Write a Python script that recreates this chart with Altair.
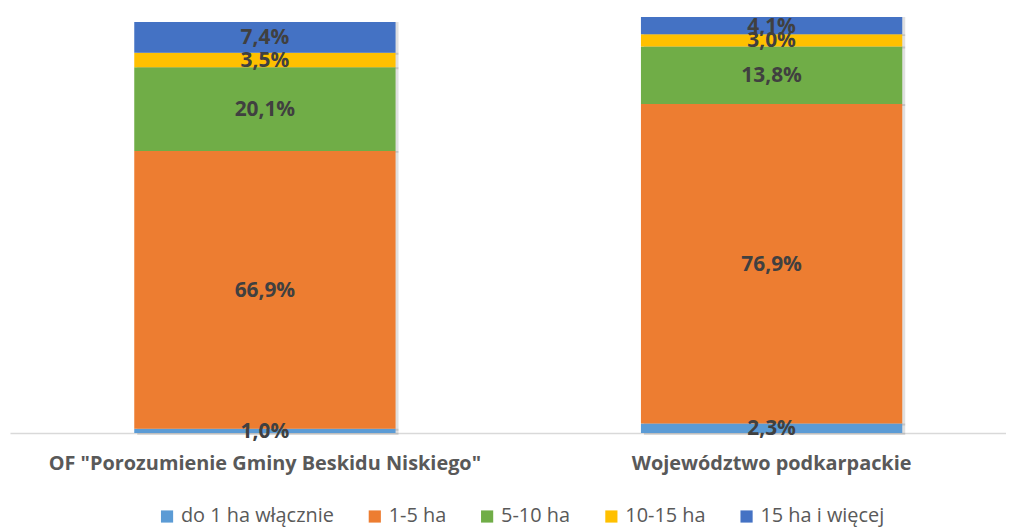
import altair as alt
import pandas as pd

regions = ['OF "Porozumienie Gminy Beskidu Niskiego"', "Województwo podkarpackie"]
categories = ["do 1 ha włącznie", "1-5 ha", "5-10 ha", "10-15 ha", "15 ha i więcej"]
of_values = [1.0, 66.9, 20.1, 3.5, 7.4]
woj_values = [2.3, 76.9, 13.8, 3.0, 4.1]
colors = ["#5B9BD5", "#ED7D31", "#70AD47", "#FFC000", "#4472C4"]

rows = []
for region, vals in zip(regions, [of_values, woj_values]):
    for i, (cat, v) in enumerate(zip(categories, vals)):
        rows.append({"region": region, "cat": cat, "order": i, "value": v,
                     "label": f"{v:.1f}".replace(".", ",") + "%"})
df = pd.DataFrame(rows)

FONT = "Open Sans"

base = alt.Chart(df).transform_stack(
    stack="value", groupby=["region"], as_=["y0", "y1"],
    sort=[alt.SortField("order", order="ascending")]
).transform_calculate(mid="(datum.y0 + datum.y1) / 2")

xscale = alt.Scale(domain=regions, paddingInner=0.4843, paddingOuter=0.225, align=0.545)
xaxis = alt.Axis(labelAngle=0, labelFontSize=20, labelFontWeight="bold",
                 labelColor="#595959", labelFont=FONT, labelPadding=21,
                 labelLimit=0, ticks=False, domainColor="#D9D9D9",
                 domainWidth=1.5)
x = alt.X("region:N", sort=regions, title=None, scale=xscale, axis=xaxis)
yscale = alt.Scale(domain=[0, 100])

shadow = base.mark_bar(color="#000000", opacity=0.12, xOffset=3, yOffset=2).encode(
    x=x,
    y=alt.Y("y0:Q", scale=yscale, axis=None),
    y2="y1:Q",
)

bars = base.mark_bar().encode(
    x=x,
    y=alt.Y("y0:Q", scale=yscale, axis=None),
    y2="y1:Q",
    color=alt.Color("cat:N", sort=categories,
                    scale=alt.Scale(domain=categories, range=colors),
                    legend=alt.Legend(title=None, orient="none", direction="horizontal",
                                      legendX=148, legendY=492, padding=0,
                                      symbolType="square", symbolSize=150,
                                      symbolStrokeWidth=0,
                                      labelFontSize=20, labelColor="#595959",
                                      labelFont=FONT, columnPadding=31,
                                      labelOffset=4)),
)

texts = base.mark_text(fontSize=21, fontWeight="bold", color="#404040",
                       font=FONT, baseline="middle", dy=1).encode(
    x=x,
    y=alt.Y("mid:Q", scale=yscale),
    text="label:N",
)

chart = alt.layer(shadow, bars, texts).properties(
    width=1002, height=418,
    padding={"left": 2, "top": 6, "right": 0, "bottom": 0},
).configure_view(stroke=None)

chart.save("out.html", embed_options={"renderer": "svg", "actions": False})
